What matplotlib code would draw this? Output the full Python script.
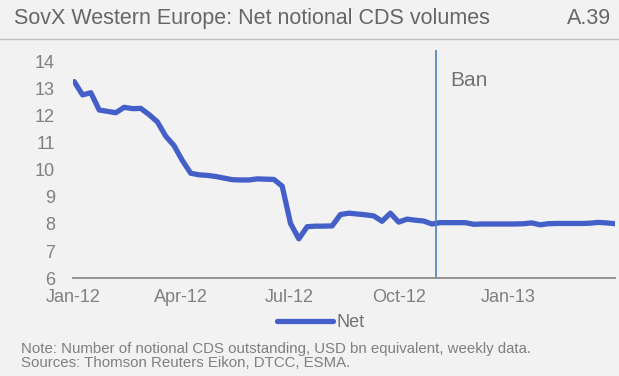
import matplotlib
matplotlib.use("Agg")
import matplotlib.pyplot as plt
import pandas as pd

plt.rcParams['font.family'] = ['Liberation Sans', 'DejaVu Sans']

# weekly data
start_date = "2012-01-02"
net = [13.27, 12.78, 12.86, 12.22, 12.17, 12.12, 12.32, 12.27, 12.28, 12.05,
       11.78, 11.25, 10.90, 10.35, 9.88, 9.82, 9.80, 9.76, 9.70, 9.64,
       9.63, 9.63, 9.67, 9.66, 9.65, 9.40, 8.02, 7.45, 7.90, 7.92,
       7.92, 7.93, 8.35, 8.40, 8.37, 8.34, 8.30, 8.10, 8.40, 8.07,
       8.18, 8.14, 8.11, 8.00, 8.05, 8.05, 8.05, 8.05, 7.99, 8.00,
       8.00, 8.00, 8.00, 8.00, 8.01, 8.04, 7.97, 8.01, 8.02, 8.02,
       8.02, 8.02, 8.03, 8.06, 8.04, 8.01]
dates = pd.date_range(start_date, periods=len(net), freq="7D")
ban_date = pd.Timestamp("2012-11-01")
tick_dates = pd.to_datetime(["2012-01-01", "2012-04-01", "2012-07-01", "2012-10-01", "2013-01-01"])
tick_labels = ["Jan-12", "Apr-12", "Jul-12", "Oct-12", "Jan-13"]
yticks = [6, 7, 8, 9, 10, 11, 12, 13, 14]

bg = "#f2f2f2"
blue = "#4460c8"
gray_txt = "#808080"

fig = plt.figure(figsize=(6.19, 3.76), dpi=100, facecolor=bg)
ax = fig.add_axes([0.118, 0.2606, 0.8755, 0.607], facecolor=bg)

ax.plot(dates, net, color=blue, lw=3.8, solid_capstyle='round', solid_joinstyle='round', label="Net")
ax.axvline(ban_date, color="#4f81bd", lw=1.2)
ax.text(ban_date + pd.Timedelta(days=12), 13.33, "Ban", fontsize=15, color="#737373", va='center', ha='left')

ax.set_xlim(pd.Timestamp("2012-01-01"), pd.Timestamp("2013-04-01"))
ax.set_ylim(6, 14.45)
ax.set_yticks(yticks)
ax.set_xticks(tick_dates)
ax.set_xticklabels(tick_labels)
ax.tick_params(axis='both', length=0, labelsize=13, colors=gray_txt)
ax.tick_params(axis='y', pad=13)
ax.tick_params(axis='x', pad=8)
for s in ['top', 'right', 'left']:
    ax.spines[s].set_visible(False)
ax.spines['bottom'].set_color("#8c8c8c")
ax.spines['bottom'].set_linewidth(1.3)

fig.legend(handles=ax.get_lines()[:1], loc='center', bbox_to_anchor=(0.519, 0.141), frameon=False,
           fontsize=13, handlelength=3.1, handletextpad=0.2, labelcolor="#737373",
           borderpad=0, borderaxespad=0)

fig.text(0.023, 0.952, "SovX Western Europe: Net notional CDS volumes", fontsize=15.5, color="#666666", va='center', ha='left')
fig.text(0.988, 0.952, "A.39", fontsize=15.5, color="#666666", va='center', ha='right')
fig.add_artist(plt.Line2D([0, 1], [0.896, 0.896], color="#bfbfbf", lw=1.0, transform=fig.transFigure))

fig.text(0.034, 0.061, "Note: Number of notional CDS outstanding, USD bn equivalent, weekly data.", fontsize=10.8, color="#7f7f7f", va='baseline', ha='left')
fig.text(0.034, 0.025, "Sources: Thomson Reuters Eikon, DTCC, ESMA.", fontsize=10.8, color="#7f7f7f", va='baseline', ha='left')

fig.savefig("out.png", dpi=100, facecolor=bg)
